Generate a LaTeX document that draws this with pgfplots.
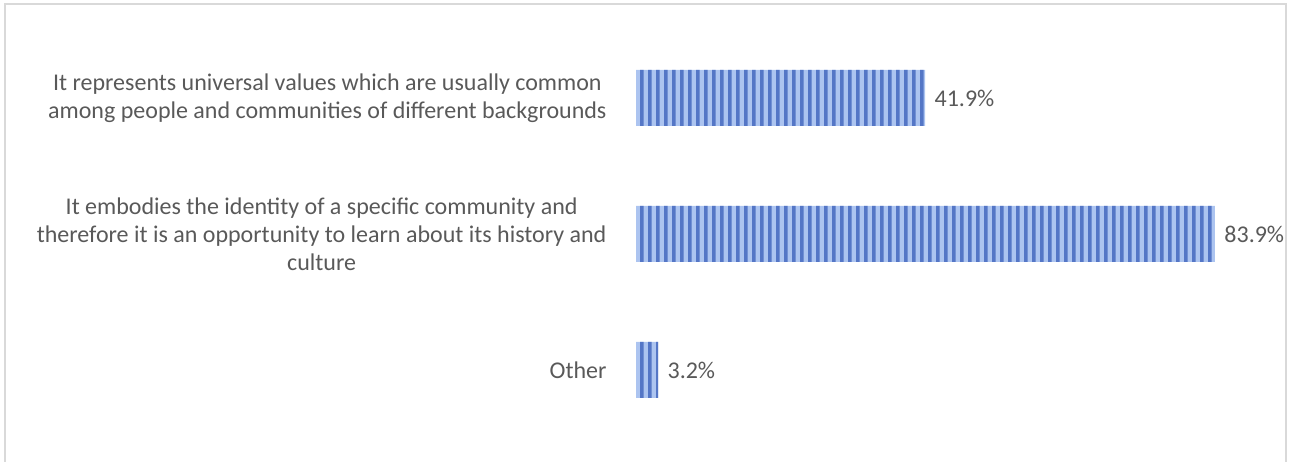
\documentclass[border=0pt]{standalone}
\usepackage{pgfplots}
\pgfplotsset{compat=1.18}
\usepackage{fontspec}
\setmainfont{Carlito}
\usetikzlibrary{patterns}
\definecolor{txt}{RGB}{89,89,89}
\definecolor{barlight}{RGB}{172,196,240}
\definecolor{bardark}{RGB}{84,118,198}
\definecolor{frame}{RGB}{217,217,217}
\pgfdeclarepatternformonly{vstripes}{\pgfqpoint{0bp}{0bp}}{\pgfqpoint{8bp}{500bp}}{\pgfqpoint{8bp}{500bp}}{%
  \pgfpathrectangle{\pgfqpoint{0bp}{0bp}}{\pgfqpoint{4bp}{500bp}}\pgfusepath{fill}}
\begin{document}
\begin{tikzpicture}[x=1bp,y=1bp]
\useasboundingbox (0,0) rectangle (1291,462);
\draw[frame,line width=2.5bp] (5,-2) -- (5,458) -- (1286,458) -- (1286,-2);
\begin{axis}[
  at={(636bp,24bp)}, anchor=south west,
  scale only axis, width=621bp, height=408bp,
  xmin=0, xmax=90, ymin=-0.5, ymax=2.5,
  y dir=reverse,
  xbar, bar width=56bp,
  axis line style={draw=none},
  xtick=\empty, ytick={0,1,2},
  major tick length=0pt,
  /pgf/number format/assume math mode=true,
  yticklabels={{It represents universal values which are usually common\\among people and communities of different backgrounds},
               {It embodies the identity of a specific community and\\therefore it is an opportunity to learn about its history and\\culture},
               {Other}},
  yticklabel style={align=center, font=\fontsize{24bp}{28bp}\selectfont, text=txt, xshift=-26bp},
  nodes near coords={\pgfmathprintnumber[fixed,precision=1,fixed zerofill]{\pgfplotspointmeta}\%},
  nodes near coords style={font=\fontsize{24bp}{28bp}\selectfont, text=txt, anchor=west, xshift=6bp},
  point meta=x,
  clip=false,
]
\addplot[draw=none, fill=barlight, postaction={pattern=vstripes, pattern color=bardark}] coordinates {(41.9,0) (83.9,1) (3.2,2)};
\end{axis}
\end{tikzpicture}
\end{document}
